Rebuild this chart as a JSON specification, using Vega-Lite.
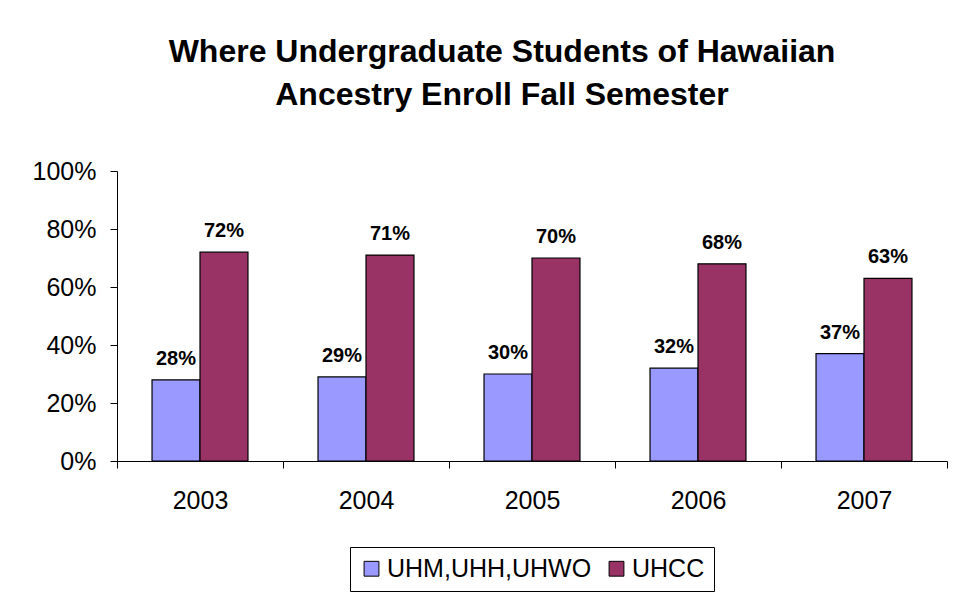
{
  "$schema": "https://vega.github.io/schema/vega-lite/v6.json",
  "width": 830,
  "height": 290,
  "autosize": {"type": "none"},
  "padding": {"left": 117, "top": 171, "right": 6, "bottom": 134},
  "background": "white",
  "title": {
    "text": ["Where Undergraduate Students of Hawaiian", "Ancestry Enroll Fall Semester"],
    "font": "Liberation Sans",
    "fontSize": 32,
    "fontWeight": "bold",
    "color": "black",
    "lineHeight": 43,
    "anchor": "middle",
    "dx": -30,
    "offset": 47
  },
  "data": {
    "values": [
      {"year": "2003", "series": "UHM,UHH,UHWO", "value": 0.28},
      {"year": "2003", "series": "UHCC", "value": 0.72},
      {"year": "2004", "series": "UHM,UHH,UHWO", "value": 0.29},
      {"year": "2004", "series": "UHCC", "value": 0.71},
      {"year": "2005", "series": "UHM,UHH,UHWO", "value": 0.30},
      {"year": "2005", "series": "UHCC", "value": 0.70},
      {"year": "2006", "series": "UHM,UHH,UHWO", "value": 0.32},
      {"year": "2006", "series": "UHCC", "value": 0.68},
      {"year": "2007", "series": "UHM,UHH,UHWO", "value": 0.37},
      {"year": "2007", "series": "UHCC", "value": 0.63}
    ]
  },
  "encoding": {
    "x": {
      "field": "year",
      "type": "nominal",
      "scale": {"paddingInner": 0, "paddingOuter": 0},
      "axis": {
        "title": null,
        "labelAngle": 0,
        "tickBand": "extent",
        "labelFont": "Liberation Sans",
        "labelFontSize": 25,
        "labelColor": "black",
        "labelPadding": 20,
        "tickSize": 7,
        "tickColor": "black",
        "domainColor": "black",
        "grid": false
      }
    },
    "xOffset": {
      "field": "series",
      "type": "nominal",
      "sort": ["UHM,UHH,UHWO", "UHCC"],
      "scale": {"paddingOuter": 0.73, "paddingInner": 0}
    },
    "y": {
      "field": "value",
      "type": "quantitative",
      "scale": {"domain": [0, 1], "nice": false},
      "axis": {
        "title": null,
        "format": ".0%",
        "values": [0, 0.2, 0.4, 0.6, 0.8, 1],
        "grid": false,
        "labelFont": "Liberation Sans",
        "labelFontSize": 25,
        "labelColor": "black",
        "labelPadding": 14,
        "tickSize": 7,
        "tickColor": "black",
        "domainColor": "black"
      }
    }
  },
  "layer": [
    {
      "mark": {"type": "bar", "stroke": "black", "strokeWidth": 1.2},
      "encoding": {
        "color": {
          "field": "series",
          "type": "nominal",
          "sort": ["UHM,UHH,UHWO", "UHCC"],
          "scale": {"domain": ["UHM,UHH,UHWO", "UHCC"], "range": ["#9999FF", "#993366"]},
          "legend": {
            "title": null,
            "orient": "bottom",
            "direction": "horizontal",
            "labelFont": "Liberation Sans",
            "labelFontSize": 25,
            "labelColor": "black",
            "labelLimit": 400,
            "symbolType": "square",
            "symbolSize": 220,
            "symbolStrokeColor": "black",
            "symbolStrokeWidth": 1,
            "symbolOpacity": 1,
            "strokeColor": "black",
            "padding": 9,
            "offset": 34,
            "columnPadding": 12,
            "labelOffset": 3
          }
        }
      }
    },
    {
      "mark": {
        "type": "text",
        "font": "Liberation Sans",
        "fontSize": 20,
        "fontWeight": "bold",
        "color": "black",
        "baseline": "alphabetic",
        "dy": -15
      },
      "encoding": {
        "text": {"field": "value", "type": "quantitative", "format": ".0%"}
      }
    }
  ],
  "config": {
    "view": {"stroke": null},
    "legend": {"layout": {"bottom": {"anchor": "middle"}}}
  }
}
